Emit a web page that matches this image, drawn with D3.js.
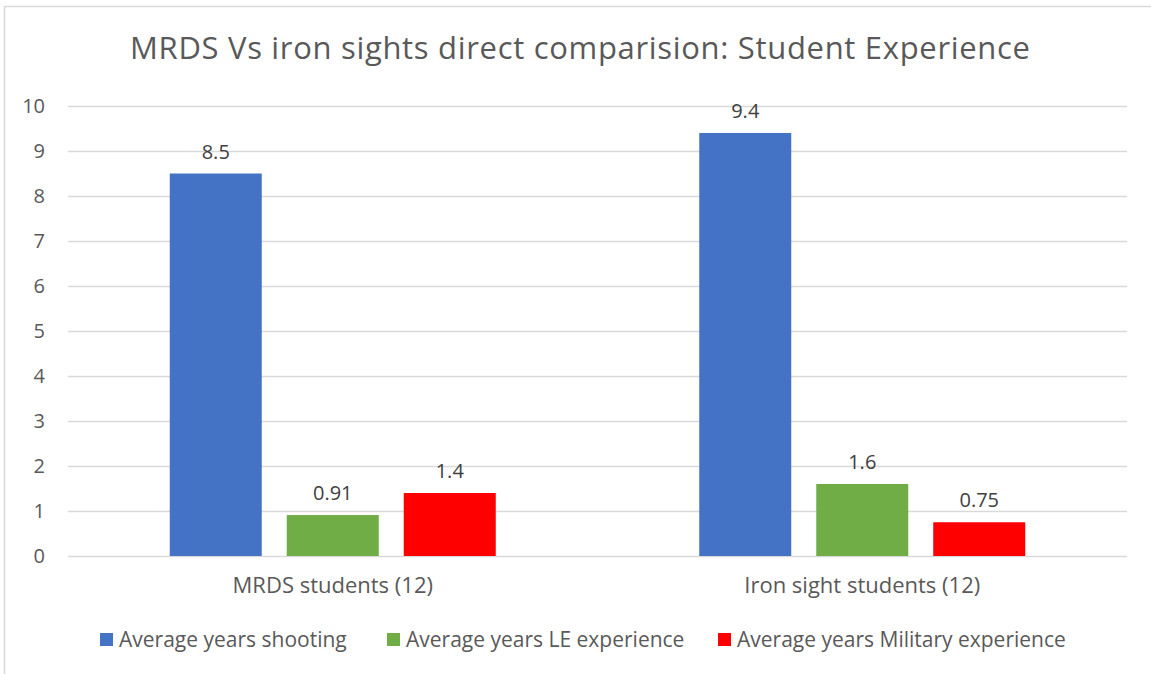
<!DOCTYPE html>
<html>
<head>
<meta charset="utf-8">
<script src="https://cdn.jsdelivr.net/npm/d3@7"></script>
<style>
  body { margin: 0; background: #fff; }
  text { font-family: "Open Sans", "Noto Sans", sans-serif; }
</style>
</head>
<body>
<svg id="chart" width="1151" height="674"></svg>
<script>
// chart data
var categories = ['MRDS students (12)', 'Iron sight students (12)'];
var seriesNames = ['Average years shooting', 'Average years LE experience', 'Average years Military experience'];
var seriesColors = ['#4472c4', '#70ad47', '#ff0000'];
var shooting = [8.5, 9.4];
var leExperience = [0.91, 1.6];
var militaryExperience = [1.4, 0.75];
var labels = [['8.5', '9.4'], ['0.91', '1.6'], ['1.4', '0.75']];
var yTicks = [0, 1, 2, 3, 4, 5, 6, 7, 8, 9, 10];

var series = [shooting, leExperience, militaryExperience];

var svg = d3.select('#chart');

// chart frame (only top and left edges show in the picture)
svg.append('rect')
    .attr('x', 4.5).attr('y', 6.5)
    .attr('width', 1200).attr('height', 700)
    .attr('fill', 'none')
    .attr('stroke', '#d9d9d9')
    .attr('stroke-width', 1.5);

// title
svg.append('text')
    .attr('x', 580).attr('y', 59)
    .attr('text-anchor', 'middle')
    .attr('fill', '#595959')
    .style('font-size', '31px')
    .attr('textLength', 900)
    .text('MRDS Vs iron sights direct comparision: Student Experience');

// plot area
var plotLeft = 68, plotRight = 1127, plotTop = 106, plotBottom = 556;

var x = d3.scaleBand().domain(categories).range([plotLeft, plotRight]);
var y = d3.scaleLinear().domain([0, 10]).range([plotBottom, plotTop]);

// gridlines
svg.append('g').selectAll('line')
    .data(yTicks)
    .join('line')
    .attr('x1', plotLeft).attr('x2', plotRight)
    .attr('y1', function(d) { return Math.round(y(d)) + 0.5; })
    .attr('y2', function(d) { return Math.round(y(d)) + 0.5; })
    .attr('stroke', '#d9d9d9')
    .attr('stroke-width', 1.3);

// y axis labels
var yAxis = d3.axisLeft(y).tickValues(yTicks).tickSize(0).tickPadding(0);
var yg = svg.append('g').attr('transform', 'translate(45,0)').call(yAxis);
yg.select('.domain').remove();
yg.selectAll('text')
    .attr('fill', '#595959')
    .style('font-size', '20px')
    .style('font-family', '"Open Sans", "Noto Sans", sans-serif');

// bars: inner band per series
var barW = 92, gap = 25;
var groupW = barW * 3 + gap * 2;
var inner = d3.scaleBand().domain(d3.range(3)).range([0, groupW]).paddingInner(gap / (barW + gap));

function barX(i, s) {
    return x(categories[i]) + x.bandwidth() / 2 - groupW / 2 + inner(s);
}

series.forEach(function(vals, s) {
    var g = svg.append('g');
    g.selectAll('rect')
        .data(vals)
        .join('rect')
        .attr('x', function(d, i) { return barX(i, s); })
        .attr('y', function(d) { return y(d); })
        .attr('width', inner.bandwidth())
        .attr('height', function(d) { return y(0) - y(d); })
        .attr('fill', seriesColors[s]);
    // data labels
    g.selectAll('text')
        .data(vals)
        .join('text')
        .attr('x', function(d, i) { return barX(i, s) + inner.bandwidth() / 2; })
        .attr('y', function(d) { return y(d) - 15; })
        .attr('text-anchor', 'middle')
        .attr('fill', '#404040')
        .style('font-size', '20px')
        .text(function(d, i) { return labels[s][i]; });
});

// category labels
var xAxis = d3.axisBottom(x).tickSize(0).tickPadding(0);
var xg = svg.append('g').attr('transform', 'translate(0,' + (plotBottom + 37) + ')').call(xAxis);
xg.select('.domain').remove();
xg.selectAll('text')
    .attr('dy', 0)
    .attr('fill', '#595959')
    .style('font-size', '22px')
    .style('font-family', '"Open Sans", "Noto Sans", sans-serif');

// legend
var legendX = [100, 387, 718];
var legend = svg.append('g');
seriesNames.forEach(function(name, s) {
    legend.append('rect')
        .attr('x', legendX[s]).attr('y', 633)
        .attr('width', 13).attr('height', 13)
        .attr('fill', seriesColors[s]);
    legend.append('text')
        .attr('x', legendX[s] + 19).attr('y', 647)
        .attr('fill', '#595959')
        .style('font-size', '21px')
        .text(name);
});
</script>
</body>
</html>
